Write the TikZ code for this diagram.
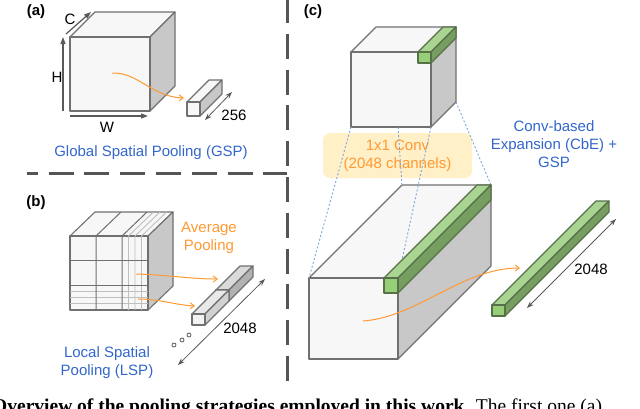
\documentclass[tikz,border=0pt]{standalone}
\usepackage{fontspec}
\setsansfont{Liberation Sans}
\newfontfamily\captionserif{Liberation Serif}
\usetikzlibrary{arrows.meta,positioning}
\definecolor{grayfront}{RGB}{247,247,247}
\definecolor{graytop}{RGB}{247,247,247}
\definecolor{grayside}{RGB}{200,200,200}
\definecolor{grayedge}{RGB}{112,112,112}
\definecolor{lightfront}{RGB}{242,242,242}
\definecolor{lighttop}{RGB}{232,232,232}
\definecolor{lightside}{RGB}{210,210,210}
\definecolor{lightedge}{RGB}{112,112,112}
\definecolor{darkfront}{RGB}{225,225,225}
\definecolor{darktop}{RGB}{218,218,218}
\definecolor{darkside}{RGB}{178,178,178}
\definecolor{darkedge}{RGB}{112,112,112}
\definecolor{greenfront}{RGB}{151,206,120}
\definecolor{greentop}{RGB}{170,212,145}
\definecolor{greenside}{RGB}{118,158,96}
\definecolor{greenedge}{RGB}{88,112,72}
\definecolor{sepgray}{RGB}{85,85,85}
\definecolor{dimgray}{RGB}{90,90,90}
\definecolor{textblue}{RGB}{51,102,204}
\definecolor{poolorange}{RGB}{255,153,51}
\definecolor{convfill}{RGB}{255,240,200}
\definecolor{projblue}{RGB}{126,166,224}
\tikzset{boxline/.style={line width=1.1pt, line join=round}}
% front top-left x, y, width, height, depth dx, dy, colour set
\newcommand{\drawbox}[7]{%
  \filldraw[boxline, draw=#7edge, fill=#7top] (#1,#2) -- ++(#5,#6) -- ++(#3,0) -- ++({-(#5)},{-(#6)}) -- cycle;
  \filldraw[boxline, draw=#7edge, fill=#7side] (#1+#3,#2) -- ++(#5,#6) -- ++(0,#4) -- ++({-(#5)},{-(#6)}) -- cycle;
  \filldraw[boxline, draw=#7edge, fill=#7front] (#1,#2) rectangle ++(#3,#4);
}

\begin{document}
\begin{tikzpicture}[x=1pt, y=-1pt,
    every node/.style={font=\sffamily\fontsize{15}{18}\selectfont, inner sep=0pt},
    panellabel/.style={font=\sffamily\bfseries\fontsize{15}{18}\selectfont},
    bluetext/.style={text=textblue, align=center},
    orangetext/.style={text=poolorange, align=center},
    axisarrow/.style={-{Triangle[length=7pt,width=5pt]}, draw=dimgray, line width=1.2pt},
    dimarrow/.style={{Stealth[length=7pt,width=5pt]}-{Stealth[length=7pt,width=5pt]}, draw=dimgray, line width=0.8pt},
    poolarrow/.style={-{Straight Barb[length=4pt,width=6pt]}, draw=poolorange, line width=1pt},
    separator/.style={draw=sepgray, line width=3pt, dash pattern=on 25pt off 10.8pt},
    projline/.style={draw=projblue, line width=0.9pt, dash pattern=on 2pt off 2pt},
    gridcoarse/.style={draw=grayedge, line width=1pt},
    gridfine/.style={draw=black!25, line width=0.9pt},
    dotcircle/.style={circle, draw=dimgray, fill=white, line width=0.8pt, minimum size=4pt},
    convbox/.style={rounded corners=7pt, fill=convfill, minimum width=149pt, minimum height=45pt, text=poolorange, align=center}]
  \useasboundingbox (0,0) rectangle (640,408);
  \clip (0,0) rectangle (640,408);

  % separators
  \coordinate (sepleft) at (27,173);
  \coordinate (sepmid) at (287,173);
  \coordinate (septop) at (287,0);
  \coordinate (sepbottom) at (287,383);
  \draw[separator, dash phase=14.2pt] (sepleft) -- (sepmid);
  \draw[separator, dash phase=2pt] (septop) -- (sepbottom);

  % (a) global spatial pooling
  \node[panellabel] (labela) at (36,12) {(a)};
  \drawbox{70}{37}{80}{74}{25}{-25}{gray}
  \coordinate (hlow) at (63,111);
  \coordinate (hhigh) at (63,37);
  \coordinate (wleft) at (70,116);
  \coordinate (wright) at (148,116);
  \coordinate (clow) at (66,34);
  \coordinate (chigh) at (91,12);
  \draw[axisarrow] (hlow) -- (hhigh);
  \draw[axisarrow] (wleft) -- (wright);
  \draw[axisarrow] (clow) -- (chigh);
  \node (hlab) at (57,77) {H};
  \node (wlab) at (107,127) {W};
  \node (clab) at (70,19) {C};
  \coordinate (gspfrom) at (112,73);
  \coordinate (gspto) at (184,98);
  \draw[poolarrow] (gspfrom) .. controls (138,72) and (152,97) .. (gspto);
  \drawbox{187}{102}{13}{14}{22}{-22}{gray}
  \coordinate (gspdimlow) at (205,120);
  \coordinate (gspdimhigh) at (232,92);
  \draw[dimarrow] (gspdimlow) -- (gspdimhigh);
  \node (gspdim) at (234,115) {256};
  \node[bluetext] (gsp) at (151,153) {Global Spatial Pooling (GSP)};

  % (b) local spatial pooling
  \node[panellabel] (labelb) at (36,203) {(b)};
  \drawbox{70}{236}{78}{74}{25}{-24}{gray}
  \foreach \gx in {128.5,135,141.5}
    \draw[gridfine] (\gx,236) -- (\gx,310) (\gx,236) -- ++(25,-24);
  \foreach \gy in {291.5,297.7,303.8}
    \draw[gridfine] (70,\gy) -- (148,\gy);
  \foreach \gx in {96,122}
    \draw[gridcoarse] (\gx,236) -- (\gx,310) (\gx,236) -- ++(25,-24);
  \foreach \gy in {260.7,285.3}
    \draw[gridcoarse] (70,\gy) -- (148,\gy);
  \coordinate (lspfromA) at (136,274);
  \coordinate (lsptoA) at (218,279);
  \coordinate (lspfromB) at (138,299);
  \coordinate (lsptoB) at (195,306);
  \draw[poolarrow] (lspfromA) .. controls (170,275) and (190,279) .. (lsptoA);
  \draw[poolarrow] (lspfromB) .. controls (160,299) and (175,305) .. (lsptoB);
  \node[orangetext] (avgpool) at (209,238) {Average\\Pooling};
  \drawbox{216}{290}{13}{11}{24}{-24}{dark}
  \drawbox{192}{314}{13}{11}{24}{-24}{light}
  \coordinate (lspdimlow) at (178,365);
  \coordinate (lspdimhigh) at (265,279);
  \draw[dimarrow] (lspdimlow) -- (lspdimhigh);
  \node (lspdim) at (240,328) {2048};
  \foreach \dx/\dy [count=\k] in {174/345,182/340,189/335}
    \node[dotcircle] (dot\k) at (\dx,\dy) {};
  \node[bluetext] (lsp) at (107,363) {Local Spatial\\Pooling (LSP)};

  % (c) conv-based expansion
  \node[panellabel] (labelc) at (313,12) {(c)};
  \node[convbox] (conv) at (397.5,155.5) {1x1 Conv\\(2048 channels)};
  \drawbox{309}{278}{89}{81}{93}{-93}{gray}
  \drawbox{351}{52}{80}{75}{25}{-25}{gray}
  \drawbox{418}{52}{13}{11}{25}{-25}{green}
  \coordinate (topbl) at (351,127);
  \coordinate (topbm) at (398,127);
  \coordinate (topbr) at (431,127);
  \coordinate (topbb) at (456,102);
  \coordinate (lowfl) at (309,278);
  \coordinate (lowbl) at (402,185);
  \coordinate (lowfr) at (398,278);
  \coordinate (lowbr) at (491,185);
  \draw[projline] (topbl) -- (lowfl);
  \draw[projline] (topbm) -- (lowbl);
  \draw[projline] (topbr) -- (lowfr);
  \draw[projline] (topbb) -- (lowbr);
  \drawbox{384}{278}{14}{15}{93}{-93}{green}
  \coordinate (cbefrom) at (363,321);
  \coordinate (cbeto) at (520,268);
  \draw[poolarrow] (cbefrom) .. controls (418,317) and (462,268) .. (cbeto);
  \drawbox{492}{305}{13}{11}{104}{-104}{green}
  \coordinate (cbedimlow) at (527,308);
  \coordinate (cbedimhigh) at (616,219);
  \draw[dimarrow] (cbedimlow) -- (cbedimhigh);
  \node (cbedim) at (591,269) {2048};
  \node[bluetext] (cbe) at (554,144) {Conv-based\\Expansion (CbE) +\\GSP};

  % caption cut by the frame
  \node[anchor=base west, font=\captionserif\bfseries\fontsize{19.5}{22}\selectfont] (caption) at (-8,412.5)
    {Overview of the pooling strategies employed in this work. {\mdseries The first one (a)}};
\end{tikzpicture}
\end{document}
